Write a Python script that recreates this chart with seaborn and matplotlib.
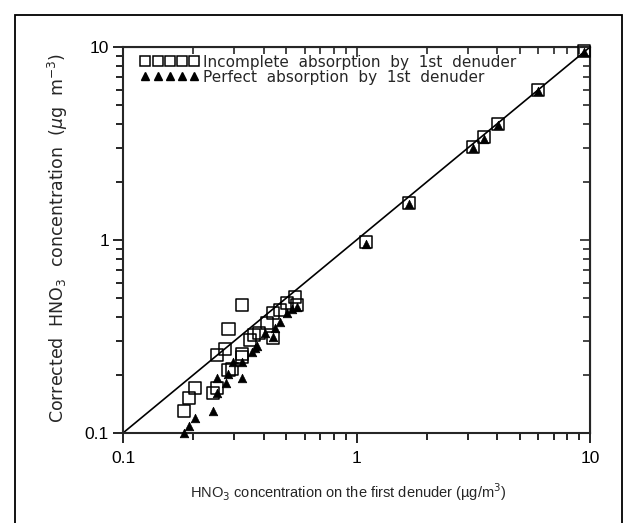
import matplotlib
matplotlib.use("Agg")
import matplotlib.pyplot as plt
from matplotlib.lines import Line2D
from matplotlib.patches import Rectangle
import matplotlib.ticker as mticker
import pandas as pd
import seaborn as sns

# Incomplete absorption by 1st denuder (open squares)
sq_x = [0.183, 0.192, 0.203, 0.242, 0.252, 0.252, 0.273, 0.283, 0.283, 0.293,
        0.324, 0.324, 0.324, 0.350, 0.364, 0.384, 0.412, 0.440, 0.440, 0.470,
        0.502, 0.545, 0.555, 1.10, 1.67, 3.15, 3.50, 4.05, 6.00, 9.45]
sq_y = [0.130, 0.151, 0.172, 0.161, 0.172, 0.253, 0.272, 0.345, 0.212, 0.214,
        0.460, 0.248, 0.257, 0.303, 0.322, 0.331, 0.373, 0.417, 0.310, 0.434,
        0.470, 0.508, 0.460, 0.98, 1.56, 3.05, 3.40, 4.00, 6.00, 9.55]

# Perfect absorption by 1st denuder (filled triangles)
tri_x = [0.183, 0.192, 0.203, 0.243, 0.252, 0.253, 0.275, 0.283, 0.295, 0.324,
         0.324, 0.356, 0.368, 0.376, 0.406, 0.437, 0.448, 0.470, 0.502, 0.527,
         0.555, 1.10, 1.67, 3.15, 3.50, 4.05, 6.00, 9.45]
tri_y = [0.100, 0.109, 0.120, 0.130, 0.192, 0.161, 0.182, 0.201, 0.234, 0.192,
         0.234, 0.264, 0.275, 0.282, 0.328, 0.313, 0.351, 0.377, 0.417, 0.437,
         0.451, 0.95, 1.53, 3.00, 3.35, 3.95, 5.95, 9.45]

# 1:1 line
line_x = [0.1, 10]
line_y = [0.1, 10]

sq = pd.DataFrame({"x": sq_x, "y": sq_y})
tri = pd.DataFrame({"x": tri_x, "y": tri_y})
one = pd.DataFrame({"x": line_x, "y": line_y})

sns.set_style("ticks")
plt.rcParams["font.family"] = ["DejaVu Sans"]

fig = plt.figure(figsize=(6.36, 5.23), dpi=100)
ax = fig.add_axes([0.1934, 0.1721, 0.7343, 0.738])

sns.lineplot(data=one, x="x", y="y", ax=ax, color="black", lw=1.2)
sns.scatterplot(data=sq, x="x", y="y", ax=ax, marker="s", s=75,
                facecolor="none", edgecolor="black", linewidth=1.1, zorder=3,
                clip_on=False)
sns.scatterplot(data=tri, x="x", y="y", ax=ax, marker="^", s=38,
                color="black", edgecolor="black", linewidth=0.5, zorder=4,
                clip_on=False)

ax.set_xscale("log")
ax.set_yscale("log")
ax.set_xlim(0.1, 10)
ax.set_ylim(0.1, 10)

ax.xaxis.set_major_locator(mticker.FixedLocator([0.1, 1, 10]))
ax.yaxis.set_major_locator(mticker.FixedLocator([0.1, 1, 10]))
ax.xaxis.set_major_formatter(mticker.FixedFormatter(["0.1", "1", "10"]))
ax.yaxis.set_major_formatter(mticker.FixedFormatter(["0.1", "1", "10"]))
ax.xaxis.set_minor_locator(mticker.LogLocator(base=10, subs=range(2, 10)))
ax.yaxis.set_minor_locator(mticker.LogLocator(base=10, subs=range(2, 10)))
ax.xaxis.set_minor_formatter(mticker.NullFormatter())
ax.yaxis.set_minor_formatter(mticker.NullFormatter())

for s in ax.spines.values():
    s.set_linewidth(1.5)
    s.set_visible(True)

ax.tick_params(which="both", direction="out", bottom=True, left=True, top=False, right=False,
               width=1.2, colors="black")
ax.tick_params(which="major", length=7)
ax.tick_params(which="minor", length=5)
for lab in ax.get_xticklabels() + ax.get_yticklabels():
    lab.set_family("Liberation Sans")
    lab.set_fontsize(12.5)
ax.tick_params(axis="x", pad=6)
ax.tick_params(axis="y", pad=3)

# inward ticks on the top and right edges
top = ax.secondary_xaxis("top")
top.xaxis.set_major_locator(mticker.FixedLocator([0.1, 1, 10]))
top.xaxis.set_minor_locator(mticker.LogLocator(base=10, subs=range(2, 10)))
top.xaxis.set_major_formatter(mticker.NullFormatter())
top.xaxis.set_minor_formatter(mticker.NullFormatter())
top.tick_params(which="both", direction="in", width=1.2)
top.tick_params(which="major", length=7)
top.tick_params(which="minor", length=5)
right = ax.secondary_yaxis("right")
right.yaxis.set_major_locator(mticker.FixedLocator([0.1, 1, 10]))
right.yaxis.set_minor_locator(mticker.LogLocator(base=10, subs=range(2, 10)))
right.yaxis.set_major_formatter(mticker.NullFormatter())
right.yaxis.set_minor_formatter(mticker.NullFormatter())
right.tick_params(which="both", direction="in", width=1.2)
right.tick_params(which="major", length=7)
right.tick_params(which="minor", length=5)

ax.set_xlabel("HNO$_3$ concentration on the first denuder (\u00b5g/m$^3$)",
              family="Liberation Sans", fontsize=10.5, va="center")
ax.xaxis.set_label_coords(0.482, -0.153)
ax.set_ylabel("Corrected  HNO$_3$  concentration  ($\\mu$g  m$^{-3}$)",
              fontsize=12.5, va="center")
ax.yaxis.set_label_coords(-0.139, 0.506)

handles = [
    Line2D([], [], ls="none", marker="s", ms=7.5, mfc="none", mec="black", mew=1.1),
    Line2D([], [], ls="none", marker="^", ms=6, mfc="black", mec="black"),
]
ax.legend(handles, ["Incomplete  absorption  by  1st  denuder",
                    "Perfect  absorption  by  1st  denuder"],
          loc="upper left", bbox_to_anchor=(0.025, 0.996), frameon=False,
          numpoints=5, handlelength=3.8, handletextpad=0.3, labelspacing=0.0,
          fontsize=11, borderaxespad=0)

fig.add_artist(Rectangle((0.0236, -0.05), 0.954, 1.021, transform=fig.transFigure,
                         fill=False, edgecolor="black", lw=1.3))

fig.savefig("out.png", dpi=100)
